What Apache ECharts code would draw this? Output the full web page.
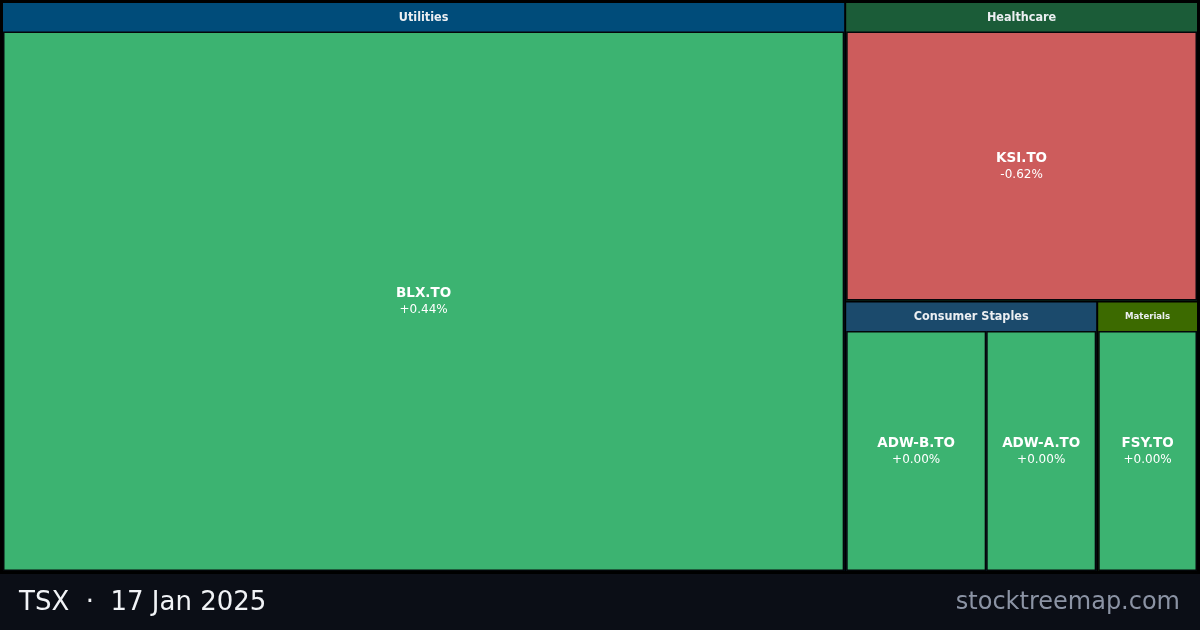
<!DOCTYPE html>
<html>
<head>
<meta charset="utf-8">
<script src="https://cdn.jsdelivr.net/npm/echarts@6/dist/echarts.min.js"></script>
<style>
  html, body { margin: 0; padding: 0; background: #000; }
  #chart { width: 1200px; height: 630px; }
</style>
</head>
<body>
<div id="chart"></div>
<script>
// sectors and their header colours
var sectors = ['Utilities', 'Healthcare', 'Consumer Staples', 'Materials'];
var sectorColors = ['#004c7a', '#1b5c38', '#1b4a6c', '#3c6a00'];

// tickers
var tickers = ['BLX.TO', 'KSI.TO', 'ADW-B.TO', 'ADW-A.TO', 'FSY.TO'];
var tickerSector = ['Utilities', 'Healthcare', 'Consumer Staples', 'Consumer Staples', 'Materials'];
var sizes = [705, 155, 56, 44, 40];
var changes = [0.44, -0.62, 0.00, 0.00, 0.00];

var LABEL_H = 32; // two label lines: 17 + 15

function tileColor(c) {
    if (c < 0) return '#cd5c5c';
    return '#3cb371';
}

function fmt(c) {
    return (c < 0 ? '' : '+') + c.toFixed(2) + '%';
}

// pads: top padding per ticker so the label sits in the middle of its tile
function buildData(pads) {
    var out = [];
    for (var s = 0; s < sectors.length; s++) {
        var kids = [];
        for (var i = 0; i < tickers.length; i++) {
            if (tickerSector[i] !== sectors[s]) continue;
            var kid = {
                name: tickers[i],
                value: sizes[i],
                change: changes[i],
                itemStyle: { color: tileColor(changes[i]) }
            };
            if (pads && pads[tickers[i]] != null) {
                kid.label = { padding: [pads[tickers[i]], 0, 0, 0] };
            }
            kids.push(kid);
        }
        out.push({
            name: sectors[s],
            itemStyle: { borderColor: sectorColors[s] },
            upperLabel: { fontSize: sectors[s] === 'Materials' ? 9.5 : 12.5 },
            children: kids
        });
    }
    return out;
}

var myChart = echarts.init(document.getElementById('chart'));

var option = {
    backgroundColor: '#000',
    animation: false,
    graphic: [
        {
            type: 'rect',
            left: 0, top: 574,
            shape: { width: 1200, height: 56 },
            style: { fill: '#0b0e16' }
        },
        {
            type: 'text',
            left: 19, top: 590,
            style: {
                text: 'TSX  ·  17 Jan 2025',
                fill: '#f1f3f6',
                font: '26px "DejaVu Sans"'
            }
        },
        {
            type: 'text',
            right: 20, top: 591,
            style: {
                text: 'stocktreemap.com',
                fill: '#8b93a4',
                font: '24px "DejaVu Sans"'
            }
        }
    ],
    series: [{
        type: 'treemap',
        left: 0,
        top: 0,
        width: 1200,
        height: 574,
        roam: false,
        nodeClick: false,
        breadcrumb: { show: false },
        sort: 'desc',
        squareRatio: 1,
        label: {
            show: true,
            position: ['50%', '50%'],
            align: 'center',
            verticalAlign: 'middle',
            formatter: function (p) {
                if (!p.data || p.data.change === undefined) return p.name;
                return '{n|' + p.name + '}\n{p|' + fmt(p.data.change) + '}';
            },
            rich: {
                n: { color: '#fff', fontSize: 13.5, fontWeight: 'bold', fontFamily: 'DejaVu Sans', lineHeight: 17, align: 'center' },
                p: { color: '#fff', fontSize: 12, fontFamily: 'DejaVu Sans', lineHeight: 15, align: 'center' }
            }
        },
        upperLabel: {
            show: true,
            height: 28.5,
            position: 'inside',
            color: '#eceff2',
            fontWeight: 'bold',
            fontFamily: '"DejaVu Sans Condensed", "DejaVu Sans"',
            formatter: '{b}'
        },
        levels: [
            {
                itemStyle: { borderColor: '#000', borderWidth: 3, gapWidth: 2 },
                upperLabel: { show: false }
            },
            {
                itemStyle: { borderWidth: 0, gapWidth: 0 },
                upperLabel: { show: true }
            },
            {
                itemStyle: { borderColor: '#04060a', borderWidth: 1.5, gapWidth: 0 }
            }
        ],
        data: buildData(null)
    }]
};

myChart.setOption(option);

// second pass: read the tile sizes the treemap worked out and centre the labels
var pads = {};
var tree = myChart.getModel().getSeriesByIndex(0).getData().tree;
tree.root.eachNode(function (node) {
    if (node.children && node.children.length) return;
    var lay = node.getLayout();
    if (!lay) return;
    var inner = lay.height - 2 * (lay.borderWidth || 0);
    pads[node.name] = Math.max(0, (inner - LABEL_H) / 2);
});
option.series[0].data = buildData(pads);
myChart.setOption(option);
</script>
</body>
</html>
